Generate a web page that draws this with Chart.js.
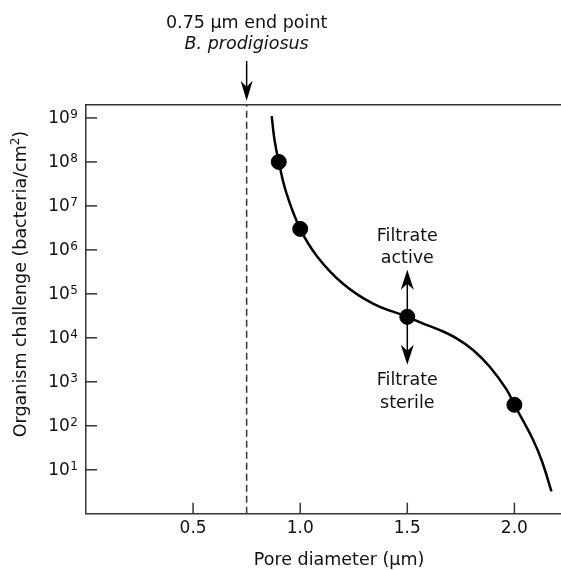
<!DOCTYPE html>
<html><head><meta charset="utf-8">
<script src="https://cdn.jsdelivr.net/npm/chart.js@4.4.1/dist/chart.umd.min.js"></script>
<style>html,body{margin:0;padding:0;background:#fff;}canvas{display:block;}</style>
</head><body>
<canvas id="c" width="561" height="570"></canvas>
<script>
// ---- data ----
const curveX = [0.867, 0.88, 0.9, 0.935, 1.0, 1.08, 1.2, 1.34, 1.5, 1.574, 1.652, 1.73, 1.807, 1.885, 1.963, 2.0, 2.087, 2.13, 2.173];
const curveY = [1.1e9, 3.2e8, 1e8, 2e7, 3e6, 7e5, 1.7e5, 6e4, 3e4, 2.1e4, 1.5e4, 9.7e3, 5.3e3, 2.2e3, 670, 3e2, 48, 15, 3.2];
const pointX = [0.9, 1.0, 1.5, 2.0];
const pointY = [1e8, 3e6, 3e4, 3e2];
const endPointX = 0.75;
const thresholdX = 1.5;
const thresholdY = 3e4;
const xTickValues = [0.5, 1.0, 1.5, 2.0];
const xTickLabels = ['0.5', '1.0', '1.5', '2.0'];
const yTickBase = '10';
const yTickExponents = ['1', '2', '3', '4', '5', '6', '7', '8', '9'];
const xMin = 0, xMax = 2.2176, yMin = 1, yMax = 2e9;

const FONT = "'DejaVu Sans', 'Liberation Sans', sans-serif";
const TXT = '#111';
const AXIS = '#333';

function arrow(ctx, x, y0, y1, hl, hw) {
  const dir = Math.sign(y1 - y0);
  ctx.beginPath(); ctx.moveTo(x, y0); ctx.lineTo(x, y1 - dir * hl * 0.6); ctx.stroke();
  ctx.beginPath();
  ctx.moveTo(x, y1);
  ctx.lineTo(x - hw, y1 - dir * hl);
  ctx.lineTo(x, y1 - dir * hl * 0.7);
  ctx.lineTo(x + hw, y1 - dir * hl);
  ctx.closePath(); ctx.fill();
}

const deco = {
  id: 'deco',
  afterDraw(chart) {
    const {ctx, chartArea: a} = chart;
    const xs = chart.scales.x, ys = chart.scales.y;
    ctx.save();
    ctx.strokeStyle = AXIS; ctx.lineWidth = 1.5;
    ctx.beginPath(); ctx.moveTo(a.left, a.top); ctx.lineTo(a.right, a.top); ctx.stroke();
    xs.ticks.forEach(t => {
      const px = xs.getPixelForValue(t.value);
      ctx.beginPath(); ctx.moveTo(px, a.bottom); ctx.lineTo(px, a.bottom - 11); ctx.stroke();
    });
    ys.ticks.forEach(t => {
      const py = ys.getPixelForValue(t.value);
      ctx.beginPath(); ctx.moveTo(a.left, py); ctx.lineTo(a.left + 11, py); ctx.stroke();
    });
    ctx.fillStyle = TXT;
    ctx.textBaseline = 'alphabetic';
    yTickExponents.forEach(e => {
      const py = ys.getPixelForValue(Math.pow(10, +e));
      ctx.font = '12px ' + FONT;
      ctx.textAlign = 'right';
      const sw = ctx.measureText(e).width;
      ctx.fillText(e, 78, py);
      ctx.font = '17px ' + FONT;
      ctx.fillText(yTickBase, 78 - sw - 0.5, py + 5);
    });
    ctx.font = '17.5px ' + FONT;
    ctx.textAlign = 'center';
    ctx.fillText('Pore diameter (\u00b5m)', 339, 565);
    ctx.save();
    ctx.translate(0, 284);
    ctx.rotate(-Math.PI / 2);
    const p1 = 'Organism challenge (bacteria/cm', p2 = '2', p3 = ')';
    ctx.font = '17.5px ' + FONT;
    const w1 = ctx.measureText(p1).width, w3 = ctx.measureText(p3).width;
    ctx.font = '12px ' + FONT;
    const w2 = ctx.measureText(p2).width;
    let u = -(w1 + w2 + w3) / 2;
    ctx.textAlign = 'left';
    ctx.font = '17.5px ' + FONT;
    ctx.fillText(p1, u, 26);
    ctx.font = '12px ' + FONT;
    ctx.fillText(p2, u + w1, 19);
    ctx.font = '17.5px ' + FONT;
    ctx.fillText(p3, u + w1 + w2, 26);
    ctx.restore();

    const ex = xs.getPixelForValue(endPointX);
    ctx.textAlign = 'center';
    ctx.font = '17.5px ' + FONT;
    ctx.fillText('0.75 \u00b5m end point', ex, 28);
    ctx.font = 'italic 17.5px ' + FONT;
    ctx.fillText('B. prodigiosus', ex, 49);
    ctx.strokeStyle = '#000'; ctx.fillStyle = '#000'; ctx.lineWidth = 1.5;
    arrow(ctx, ex, 61, a.top - 4, 20, 6);

    const tx = xs.getPixelForValue(thresholdX), ty = ys.getPixelForValue(thresholdY);
    arrow(ctx, tx, ty, ty - 47, 20, 6.5);
    arrow(ctx, tx, ty, ty + 48, 20, 6.5);
    ctx.fillStyle = TXT;
    ctx.font = '17.5px ' + FONT;
    ctx.fillText('Filtrate', tx, ty - 76);
    ctx.fillText('active', tx, ty - 54);
    ctx.fillText('Filtrate', tx, ty + 68);
    ctx.fillText('sterile', tx, ty + 91);
    ctx.restore();
  }
};

new Chart(document.getElementById('c'), {
  type: 'line',
  data: {
    datasets: [
      {
        label: 'end point',
        data: [{x: endPointX, y: yMin}, {x: endPointX, y: yMax}],
        borderColor: '#333', borderWidth: 1.5, borderDash: [7, 4],
        pointRadius: 0, order: 3
      },
      {
        label: 'curve',
        data: curveX.map((v, i) => ({x: v, y: curveY[i]})),
        borderColor: '#000', borderWidth: 2.5, pointRadius: 0,
        tension: 0.4, fill: false, order: 2
      },
      {
        type: 'scatter',
        label: 'points',
        data: pointX.map((v, i) => ({x: v, y: pointY[i]})),
        backgroundColor: '#000', borderColor: '#000', pointRadius: 7.5, order: 1
      }
    ]
  },
  options: {
    responsive: false, animation: false, devicePixelRatio: 1,
    layout: {autoPadding: false, padding: {top: 104.7, right: 0, left: 0, bottom: 0}},
    plugins: {legend: {display: false}, tooltip: {enabled: false}},
    scales: {
      x: {
        type: 'linear', min: xMin, max: xMax,
        afterBuildTicks: s => { s.ticks = xTickValues.map(v => ({value: v})); },
        afterFit: s => { s.height = 570 - 513.7; s.paddingLeft = 0; s.paddingRight = 0; },
        grid: {display: true, drawOnChartArea: false, drawTicks: false},
        border: {display: true, color: AXIS, width: 1.5},
        ticks: {
          callback: (v, i) => xTickLabels[i],
          font: {family: FONT, size: 17}, color: TXT, padding: 5,
          maxRotation: 0, autoSkip: false
        }
      },
      y: {
        type: 'logarithmic', min: yMin, max: yMax,
        afterBuildTicks: s => { s.ticks = yTickExponents.map(e => ({value: Math.pow(10, +e)})); },
        afterFit: s => { s.width = 86; s.paddingTop = 0; s.paddingBottom = 0; },
        grid: {display: true, drawOnChartArea: false, drawTicks: false},
        border: {display: true, color: AXIS, width: 1.5},
        ticks: {display: false}
      }
    }
  },
  plugins: [deco]
});
</script>
</body></html>
